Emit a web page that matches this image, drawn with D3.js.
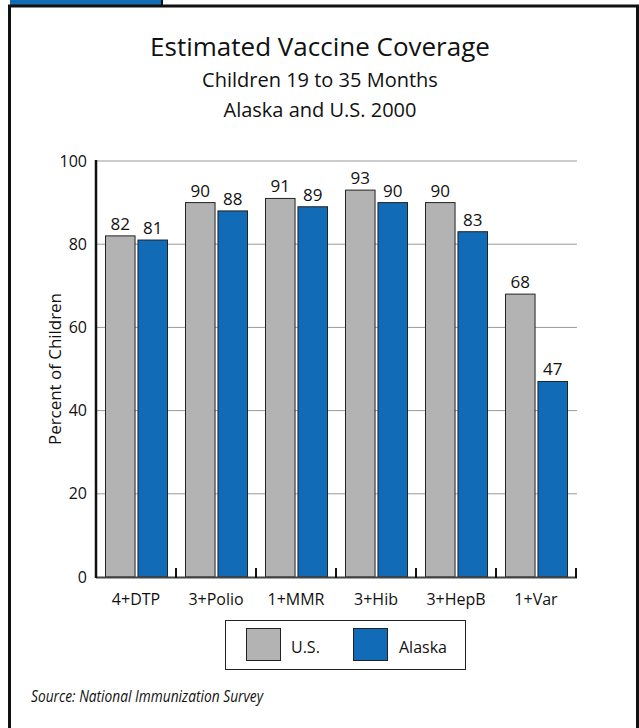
<!DOCTYPE html>
<html><head><meta charset="utf-8">
<script src="https://cdn.jsdelivr.net/npm/d3@7"></script>
<style>
body{margin:0;background:#fff;}
svg{display:block;font-family:"Open Sans","Noto Sans",sans-serif;}
</style></head>
<body><svg id="c" width="639" height="728"></svg>
<script>
const categories = ["4+DTP","3+Polio","1+MMR","3+Hib","3+HepB","1+Var"];
const seriesNames = ["U.S.","Alaska"];
const usValues = [82,90,91,93,90,68];
const alaskaValues = [81,88,89,90,83,47];
const yTicks = [0,20,40,60,80,100];
const colors = {"U.S.":"#b3b3b3","Alaska":"#116bb6"};

const svg = d3.select("#c");

// frame
svg.append("rect").attr("x",10).attr("y",0).attr("width",153).attr("height",6).attr("fill","#116bb6");
svg.append("line").attr("x1",162).attr("x2",162).attr("y1",0).attr("y2",6).attr("stroke","#111").attr("stroke-width",2);
svg.append("path").attr("d","M9.5,728 V6 H637.5 V728").attr("fill","none").attr("stroke","#111").attr("stroke-width",3);

// titles
svg.append("text").attr("x",320).attr("y",56).attr("text-anchor","middle").attr("font-size",26).attr("fill","#111")
  .text("Estimated Vaccine Coverage");
svg.append("text").attr("x",320).attr("y",87).attr("text-anchor","middle").attr("font-size",20).attr("fill","#111")
  .text("Children 19 to 35 Months");
svg.append("text").attr("x",320).attr("y",117).attr("text-anchor","middle").attr("font-size",20).attr("fill","#111")
  .text("Alaska and U.S. 2000");

const x0 = d3.scaleBand().domain(categories).range([96,576]).paddingInner(0).paddingOuter(0);
const x1 = d3.scaleBand().domain(seriesNames).range([9.5,71.5]).paddingInner(0.09);
const y = d3.scaleLinear().domain([0,100]).range([577,161]);

// gridlines
svg.append("g").selectAll("line").data(yTicks.filter(d=>d>0)).join("line")
  .attr("x1",96).attr("x2",577).attr("y1",d=>y(d)).attr("y2",d=>y(d))
  .attr("stroke","#999").attr("stroke-width",1);

// y axis labels
svg.append("g").selectAll("text").data(yTicks).join("text")
  .attr("x",87).attr("y",d=>y(d)+5.5).attr("text-anchor","end").attr("font-size",16).attr("fill","#111").text(d=>d);

svg.append("text").attr("transform","translate(61,369) rotate(-90)").attr("text-anchor","middle")
  .attr("font-size",16).attr("fill","#111").attr("textLength",152).attr("lengthAdjust","spacingAndGlyphs").text("Percent of Children");

// bars
const data = categories.map((c,i)=>({cat:c, vals:[{s:"U.S.",v:usValues[i]},{s:"Alaska",v:alaskaValues[i]}]}));
const g = svg.append("g").selectAll("g").data(data).join("g").attr("transform",d=>`translate(${x0(d.cat)},0)`);
g.selectAll("rect").data(d=>d.vals).join("rect")
  .attr("x",d=>x1(d.s)).attr("width",x1.bandwidth()).attr("y",d=>y(d.v)).attr("height",d=>y(0)-y(d.v))
  .attr("fill",d=>colors[d.s]).attr("stroke","#222").attr("stroke-width",1);
g.selectAll("text").data(d=>d.vals).join("text")
  .attr("x",d=>x1(d.s)+x1.bandwidth()/2).attr("y",d=>y(d.v)-6).attr("text-anchor","middle")
  .attr("font-size",17).attr("fill","#111").text(d=>d.v);

// axes lines
svg.append("line").attr("x1",96).attr("x2",577).attr("y1",577.5).attr("y2",577.5).attr("stroke","#444").attr("stroke-width",2);
svg.append("line").attr("x1",96).attr("x2",96).attr("y1",160).attr("y2",578).attr("stroke","#111").attr("stroke-width",2.5);
// category boundary ticks
svg.append("g").selectAll("line").data(categories.slice(1).concat(["_end"])).join("line")
  .attr("x1",d=>d==="_end"?576:x0(d)).attr("x2",d=>d==="_end"?576:x0(d))
  .attr("y1",568).attr("y2",578).attr("stroke","#111").attr("stroke-width",2);

// x labels
svg.append("g").selectAll("text").data(categories).join("text")
  .attr("x",d=>x0(d)+x0.bandwidth()/2).attr("y",605).attr("text-anchor","middle")
  .attr("font-size",16).attr("fill","#111").text(d=>d);

// legend
svg.append("rect").attr("x",225.5).attr("y",620.5).attr("width",240).attr("height",49).attr("fill","#fff").attr("stroke","#222").attr("stroke-width",1);
const leg = [{s:"U.S.",x:246,tx:291},{s:"Alaska",x:353,tx:399}];
svg.append("g").selectAll("rect").data(leg).join("rect")
  .attr("x",d=>d.x+0.5).attr("y",628.5).attr("width",34).attr("height",32).attr("fill",d=>colors[d.s]).attr("stroke","#222");
svg.append("g").selectAll("text").data(leg).join("text")
  .attr("x",d=>d.tx).attr("y",653).attr("font-size",16).attr("fill","#111").text(d=>d.s);

// source
svg.append("text").attr("x",31).attr("y",702).attr("font-size",17).attr("font-style","italic").attr("fill","#111")
  .attr("textLength",232).attr("lengthAdjust","spacingAndGlyphs").text("Source: National Immunization Survey");
</script></body></html>
